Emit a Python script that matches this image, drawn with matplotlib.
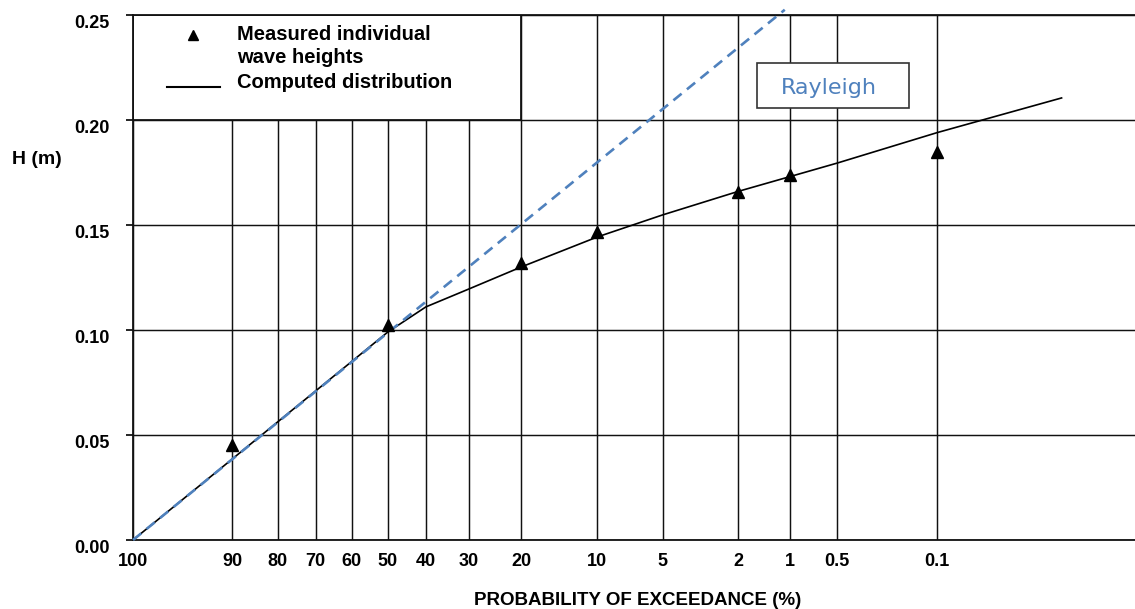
import numpy as np
import matplotlib
matplotlib.use('Agg')
import matplotlib.pyplot as plt
from matplotlib.patches import Rectangle
from matplotlib.lines import Line2D

plt.rcParams['font.family'] = ['Liberation Sans', 'DejaVu Sans']

# x axis: probability of exceedance (%) on Rayleigh paper
p_ticks = [100, 90, 80, 70, 60, 50, 40, 30, 20, 10, 5, 2, 1, 0.5, 0.1]
p_labels = ['100', '90', '80', '70', '60', '50', '40', '30', '20',
            '10', '5', '2', '1', '0.5', '0.1']
h_ticks = [0.0, 0.05, 0.10, 0.15, 0.20, 0.25]
h_labels = ['0.00', '0.05', '0.10', '0.15', '0.20', '0.25']

# measured individual wave heights
p_meas = [90, 50, 20, 10, 2, 1, 0.1]
h_meas = [0.0452, 0.1024, 0.132, 0.1467, 0.1657, 0.174, 0.185]

# computed distribution
p_comp = [100, 50, 40, 30, 20, 10, 5, 2, 1, 0.5, 0.1, 0.01]
h_comp = [0.0, 0.099, 0.111, 0.1195, 0.130, 0.1443, 0.1548, 0.166,
          0.173, 0.1795, 0.194, 0.2105]

# rayleigh straight line
p_ray = [100, 1.07]
h_ray = [0.0, 0.2525]


def fwd(p):
    p = np.clip(np.asarray(p, dtype=float) / 100.0, 1e-300, 1.0)
    return np.sqrt(-np.log(p))


def inv(x):
    return 100.0 * np.exp(-np.asarray(x, dtype=float) ** 2)


W, H = 1135, 609
fig = plt.figure(figsize=(W / 100, H / 100), dpi=100)
ax = fig.add_axes([133 / W, 1 - 540 / H, 1002 / W, 525 / H])
ax.set_xscale('function', functions=(fwd, inv))
ax.set_xlim(0.0022, 100)
ax.set_ylim(0, 0.25)
if ax.transData.transform([(100, 0)])[0][0] > ax.transData.transform([(1, 0)])[0][0]:
    ax.set_xlim(100, 0.0022)

ax.set_axisbelow(True)
ax.grid(True, color='#111111', lw=1.05)
for s in ['left', 'bottom', 'top']:
    ax.spines[s].set_linewidth(1.3)
    ax.spines[s].set_color('#111111')
ax.spines['right'].set_visible(False)

# white legend cell over the grid
ax.add_patch(Rectangle((20, 0.20), 80, 0.05, facecolor='white',
                       edgecolor='#111111', lw=1.3, zorder=1))

ax.plot(p_comp, h_comp, color='black', lw=1.2, zorder=3)
ax.plot(p_ray, h_ray, color='#4f81bd', lw=1.9, ls=(0, (4, 2.6)),
        clip_on=False, zorder=4)
ax.plot(p_meas, h_meas, ls='none', marker='^', ms=8, color='black', zorder=5)

ax.set_xticks(p_ticks)
ax.set_xticklabels(p_labels)
ax.set_yticks(h_ticks)
ax.set_yticklabels(h_labels)
ax.tick_params(axis='x', length=0, pad=9, labelsize=13)
ax.tick_params(axis='y', length=5, width=1.2, pad=12, labelsize=13)
for lbl in ax.get_xticklabels() + ax.get_yticklabels():
    lbl.set_fontweight('bold')
plt.setp(ax.get_yticklabels(), va='top')

fig.text(638 / W, 1 - 605 / H, 'PROBABILITY OF EXCEEDANCE (%)',
         ha='center', va='baseline', fontsize=13.5, fontweight='bold')
fig.text(12 / W, 1 - 160 / H, 'H (m)', ha='left', va='center',
         fontsize=14, fontweight='bold')

# legend contents
fig.add_artist(Line2D([193 / W], [1 - 35 / H], marker='^', ms=7,
                      color='black', ls='none'))
fig.add_artist(Line2D([167 / W, 220 / W], [1 - 87 / H, 1 - 87 / H],
                      color='black', lw=1.5))
fig.text(237 / W, 1 - 39.5 / H, 'Measured individual', fontsize=14.5,
         fontweight='bold', va='baseline')
fig.text(237 / W, 1 - 63 / H, 'wave heights', fontsize=14.5,
         fontweight='bold', va='baseline')
fig.text(237 / W, 1 - 87.5 / H, 'Computed distribution', fontsize=14.5,
         fontweight='bold', va='baseline')

# Rayleigh label box
fig.add_artist(Rectangle((757 / W, 1 - 108 / H), 152 / W, 45 / H,
                         transform=fig.transFigure, facecolor='white',
                         edgecolor='#333333', lw=1.2))
fig.text(829 / W, 1 - 94 / H, 'Rayleigh', ha='center', va='baseline',
         color='#4f81bd', fontsize=16, family='DejaVu Sans')

fig.savefig('out.png', dpi=100)
